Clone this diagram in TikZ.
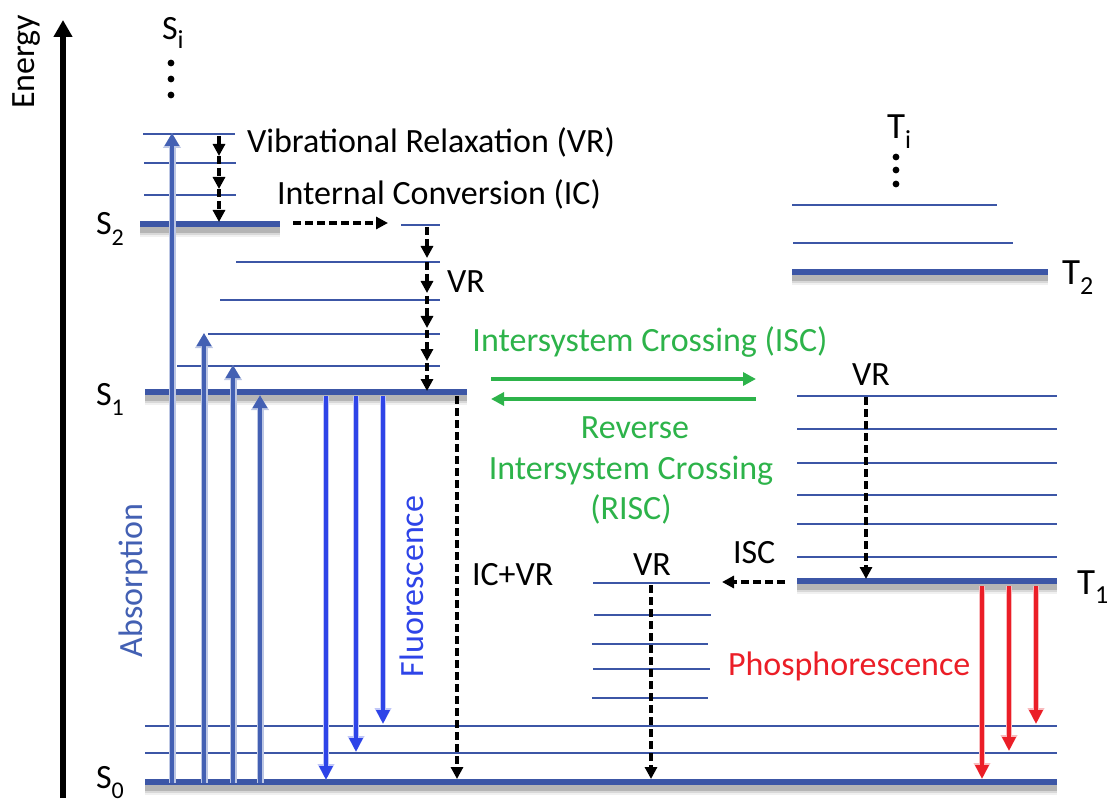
\documentclass[tikz,border=0pt]{standalone}
\usepackage{fontspec}
\setmainfont{Carlito}
\usetikzlibrary{arrows.meta}
\definecolor{lvlblue}{HTML}{3C56A6}
\definecolor{absblue}{HTML}{4360B3}
\definecolor{flblue}{HTML}{2E44E8}
\definecolor{iscgreen}{HTML}{2DB34A}
\definecolor{phred}{HTML}{EB1E27}
\newcommand\idx[1]{\raisebox{-0.3em}{\fontsize{24}{24}\selectfont #1}}
\newcommand\tidx[1]{\raisebox{-0.25em}{\fontsize{26}{26}\selectfont #1}}
\begin{document}
\begin{tikzpicture}[x=1pt,y=-1pt,
  every node/.style={inner sep=0pt,outer sep=0pt},
  lbl/.style={font=\fontsize{34}{40}\selectfont},
  tlbl/.style={font=\fontsize{37}{44}\selectfont},
  thinlvl/.style={draw=lvlblue,line width=1.8},
  mainlvl/.style={draw=lvlblue,line width=5.5,
    preaction={draw=black,opacity=.06,line width=14,transform canvas={yshift=-6pt}},
    preaction={draw=black,opacity=.10,line width=10,transform canvas={yshift=-6pt}},
    preaction={draw=black,opacity=.16,line width=6,transform canvas={yshift=-6pt}}},
  absarr/.style={draw=absblue,line width=3.8,-{Triangle[width=14,length=13]},
    preaction={draw=absblue!35,line width=7,-{Triangle[width=17,length=15]}}},
  flarr/.style={draw=flblue,line width=3.6,-{Triangle[width=13,length=14]},
    preaction={draw=flblue!30,line width=6.5,-{Triangle[width=16,length=16]}}},
  pharr/.style={draw=phred,line width=3.6,-{Triangle[width=13,length=14]},
    preaction={draw=phred!30,line width=6.5,-{Triangle[width=16,length=16]}}},
  greenarr/.style={draw=iscgreen,line width=4,-{Triangle[width=13,length=13]}},
  darr/.style={draw=black,line width=3.2,dash pattern=on 8pt off 4pt,-{Triangle[width=12,length=12]}},
  dotmark/.style={fill=black}]
\useasboundingbox (0,0) rectangle (1111,802);

% ---------- energy axis ----------
\coordinate (axB) at (63,798);
\coordinate (axT) at (63,20);
\draw[line width=5.5,-{Triangle[width=18,length=17]}] (axB) -- (axT);
\node[lbl,rotate=90,anchor=base west] (energy) at (34,109) {Energy};

% ---------- singlet manifold ----------
% S2 vibrational levels and S2
\foreach \y/\a/\b [count=\i] in {134/143/235,163/144/236,195/144/236}
  \draw[thinlvl] (\a,\y) coordinate (s2v\i L) -- (\b,\y) coordinate (s2v\i R);
\draw[mainlvl] (140,224) coordinate (S2L) -- (280,224) coordinate (S2R);
% S1 vibrational levels and S1
\foreach \y/\a [count=\i] in {225/401,262/236,300/220,334/208,366/177}
  \draw[thinlvl] (\a,\y) coordinate (s1v\i L) -- (440,\y) coordinate (s1v\i R);
\draw[mainlvl] (145,392) coordinate (S1L) -- (467,392) coordinate (S1R);
% S0 vibrational levels and S0
\draw[thinlvl] (145,726) coordinate (s0v2L) -- (1057,726) coordinate (s0v2R);
\draw[thinlvl] (145,753) coordinate (s0v1L) -- (1057,753) coordinate (s0v1R);
\draw[mainlvl] (145,782) coordinate (S0L) -- (1057,782) coordinate (S0R);
% vibrational ladder between T1 and S0
\foreach \y/\a/\b [count=\i] in {583/593/710,615/594/711,644/592/708,669/593/710,698/592/708}
  \draw[thinlvl] (\a,\y) coordinate (mv\i L) -- (\b,\y) coordinate (mv\i R);

% ---------- triplet manifold ----------
\draw[thinlvl] (792,205) coordinate (t2v2L) -- (997,205) coordinate (t2v2R);
\draw[thinlvl] (793,243) coordinate (t2v1L) -- (1013,243) coordinate (t2v1R);
\draw[mainlvl] (792,272) coordinate (T2L) -- (1048,272) coordinate (T2R);
\foreach \y [count=\i] in {396,429,463,495,524,557}
  \draw[thinlvl] (797,\y) coordinate (t1v\i L) -- (1057,\y) coordinate (t1v\i R);
\draw[mainlvl] (797,581) coordinate (T1L) -- (1057,581) coordinate (T1R);

% ---------- state labels ----------
\node[lbl,anchor=base west] (Si) at (162,40) {S\tidx{i}};
\foreach \y [count=\i] in {63,79,95} \fill[dotmark] (171,\y) circle (3.4);
\node[lbl,anchor=base west] (S2lab) at (96,235) {S\idx{2}};
\node[lbl,anchor=base west] (S1lab) at (96,405) {S\idx{1}};
\node[lbl,anchor=base west] (S0lab) at (96,788) {S\smash{\idx{0}}};
\node[tlbl,anchor=base west] (Ti) at (887,139) {T\tidx{i}};
\foreach \y [count=\i] in {157,170,184} \fill[dotmark] (896,\y) circle (3.4);
\node[tlbl,anchor=base west] (T2lab) at (1062,285) {T\tidx{2}};
\node[tlbl,anchor=base west] (T1lab) at (1077,594) {T\tidx{1}};

% ---------- absorption ----------
\foreach \x/\t [count=\i] in {172/133,204/333,233/365,260/395}
  \draw[absarr] (\x,783) coordinate (ab\i s) -- (\x,\t) coordinate (ab\i e);
\node[lbl,rotate=90,anchor=base west,text=absblue] (absorption) at (142,657) {Absorption};

% ---------- fluorescence ----------
\foreach \x/\t [count=\i] in {326/780,356/752,383/724}
  \draw[flarr] (\x,396) coordinate (fl\i s) -- (\x,\t) coordinate (fl\i e);
\node[lbl,rotate=90,anchor=base west,text=flblue] (fluor) at (423,677) {Fluorescence};

% ---------- vibrational relaxation in S2 ----------
\coordinate (vra0) at (219,136);
\coordinate (vra1) at (219,156);
\coordinate (vra2) at (219,189);
\coordinate (vra3) at (219,222);
\draw[darr] (vra0) -- (vra1);
\draw[darr] (vra1) -- (vra2);
\draw[darr] (vra2) -- (vra3);
\node[lbl,anchor=base west] (vrtext) at (247,153) {Vibrational Relaxation (VR)};

% ---------- internal conversion S2 -> S1 ----------
\coordinate (icA) at (293,223);
\coordinate (icB) at (388,223);
\draw[darr] (icA) -- (icB);
\node[lbl,anchor=base west] (ictext) at (277,205) {Internal Conversion (IC)};

% ---------- vibrational relaxation in S1 ----------
\foreach \a/\b [count=\i] in {227/258,262/293,296/328,330/361,363/391}
  \draw[darr] (427,\a) coordinate (vrb\i s) -- (427,\b) coordinate (vrb\i e);
\node[lbl,anchor=base west] (vrS1) at (447,293) {VR};

% ---------- IC + VR to ground ----------
\coordinate (icvrA) at (457,396);
\coordinate (icvrB) at (457,779);
\draw[darr] (icvrA) -- (icvrB);
\node[lbl,anchor=base west] (icvr) at (472,585) {IC+VR};

% ---------- ISC / RISC ----------
\coordinate (iscA) at (491,379);
\coordinate (iscB) at (756,379);
\coordinate (riscA) at (756,399);
\coordinate (riscB) at (491,399);
\draw[greenarr] (iscA) -- (iscB);
\draw[greenarr] (riscA) -- (riscB);
\node[lbl,anchor=base,text=iscgreen] (isctext) at (650,352) {Intersystem Crossing (ISC)};
\node[lbl,anchor=base,text=iscgreen] (risc1) at (635,438) {Reverse};
\node[lbl,anchor=base,text=iscgreen] (risc2) at (631,479) {Intersystem Crossing};
\node[lbl,anchor=base,text=iscgreen] (risc3) at (631,519) {(RISC)};

% ---------- triplet relaxation ----------
\coordinate (vrtA) at (866,397);
\coordinate (vrtB) at (866,579);
\draw[darr] (vrtA) -- (vrtB);
\node[lbl,anchor=base west] (vrT) at (852,385) {VR};

\coordinate (isc2A) at (785,582);
\coordinate (isc2B) at (722,582);
\draw[darr] (isc2A) -- (isc2B);
\node[lbl,anchor=base west] (isc2) at (733,563) {ISC};

\coordinate (vrmA) at (651,585);
\coordinate (vrmB) at (651,779);
\draw[darr] (vrmA) -- (vrmB);
\node[lbl,anchor=base west] (vrm) at (633,575) {VR};

% ---------- phosphorescence ----------
\foreach \x/\t [count=\i] in {982/779,1009/751,1036/724}
  \draw[pharr] (\x,586) coordinate (ph\i s) -- (\x,\t) coordinate (ph\i e);
\node[lbl,anchor=base west,text=phred] (phos) at (728,675) {Phosphorescence};
\end{tikzpicture}
\end{document}
